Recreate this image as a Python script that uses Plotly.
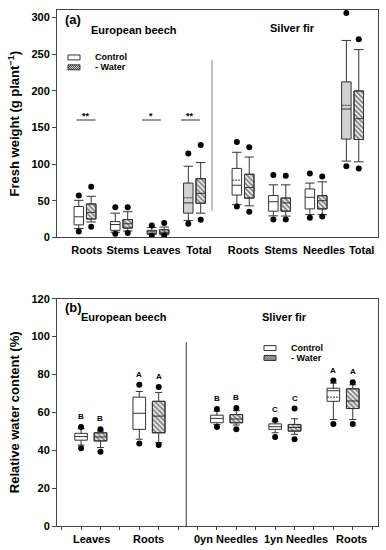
import plotly.graph_objects as go

# ---------------- Panel (a): fresh weight ----------------
a_categories = ["Roots", "Stems", "Leaves", "Total", "Roots", "Stems", "Needles", "Total"]
a_ctrl_low = [12, 7, 4, 23, 44.6, 29.3, 31, 104]
a_ctrl_q1 = [17, 9.5, 5, 33, 57.7, 35.7, 38.8, 134]
a_ctrl_med = [28, 17.5, 7.5, 47, 71, 48.6, 54.6, 175]
a_ctrl_q3 = [42, 21.5, 9.5, 74, 94, 57, 66, 212]
a_ctrl_high = [50.5, 33, 13.5, 97, 116, 71.6, 74, 268.5]
a_ctrl_mean = [None, None, None, 54, 78, None, None, 180]
a_ctrl_dot_low = [8, 5, 2.3, 18.5, 42, 24.3, 26.6, 97]
a_ctrl_dot_high = [57, 41, 16, 114.5, 130, 85, 87, 306]

a_wat_low = [21, 8.6, 3.6, 33, 43, 29, 31, 103]
a_wat_q1 = [25, 12.7, 5, 46.5, 53.6, 35.7, 38.8, 133.4]
a_wat_med = [34, 18.5, 7, 60, 68, 47, 50, 161.8]
a_wat_q3 = [45.5, 24.3, 10.4, 80, 86, 53.6, 56.8, 199.6]
a_wat_high = [56, 35, 14, 102, 109.5, 71.6, 75.7, 256]
a_wat_dot_low = [14.5, 6, 2.7, 24, 35, 24.3, 28.4, 94]
a_wat_dot_high = [69, 41, 19.5, 126, 123, 84, 83, 270]

a_signif = ["**", "", "*", "**", "", "", "", ""]
a_signif_level = 160

# ---------------- Panel (b): relative water content ----------------
b_categories = ["Leaves", "Roots", "0yn Needles", "1yn Needles", "Roots"]
b_ctrl_low = [42.7, 45.8, 53.6, 49.2, 56.2]
b_ctrl_q1 = [45.3, 51, 54.5, 51, 65.8]
b_ctrl_med = [47.2, 59.5, 56.8, 52.4, 71.4]
b_ctrl_q3 = [48.9, 68, 58.5, 53.9, 72.7]
b_ctrl_high = [51.4, 71, 60.6, 55, 75.4]
b_ctrl_mean = [None, None, None, None, 68]
b_ctrl_dot_low = [41.1, 43.5, 52.2, 47, 53.9]
b_ctrl_dot_high = [52.3, 74.5, 61.8, 55.9, 76.8]

b_wat_low = [41.4, 44, 53.3, 48.4, 56.2]
b_wat_q1 = [44.9, 49.2, 54.5, 50.1, 62]
b_wat_med = [47, 58, 56.5, 52, 66]
b_wat_q3 = [49.2, 65.8, 58.8, 53.6, 72.4]
b_wat_high = [50.1, 70.5, 60.9, 56.6, 74.5]
b_wat_dot_low = [39.2, 42.8, 51, 45.8, 53.9]
b_wat_dot_high = [51, 73.3, 62.3, 62, 75.9]

b_ctrl_letters = ["B", "A", "B", "C", "A"]
b_wat_letters = ["B", "A", "B", "C", "A"]

# ---------------- layout constants ----------------
W, H = 386, 550
ML, MR, MT, MB = 57, 8, 4, 24
PW, PH = W - ML - MR, H - MT - MB
FONT = "Liberation Sans, Arial, sans-serif"
LINE = "#333333"
GREY = "#d2d2d2"


def px2paper(px, py):
    return (px - ML) / PW, (H - MB - py) / PH


a_pos = [1, 2, 3, 4, 5.33, 6.33, 7.33, 8.33]
a_label_pos = [1.05, 2.04, 3.11, 4.12, 5.34, 6.37, 7.55, 8.58]
a_ctrl_grey = [False, False, True, True, False, False, False, True]
a_off, a_w = 0.17, 0.26

b_ctrl_pos = [1, 4, 8, 11, 14]
b_wat_pos = [2, 5, 9, 12, 15]
b_label_pos = [1.55, 4.45, 8.45, 12.1, 14.95]
b_w = 0.65

fig = go.Figure()


def add_box(x, lo, q1, med, q3, hi, mean, hatched, fill, width, ww, xa, ya):
    if hatched:
        fig.add_trace(go.Bar(
            x=[x], y=[q3 - q1], base=[q1], width=width, xaxis=xa, yaxis=ya,
            marker=dict(color="white",
                        pattern=dict(shape="\\", fgcolor="#111111", bgcolor="white",
                                     size=3.5, solidity=0.6),
                        line=dict(color=LINE, width=1)),
            showlegend=False, hoverinfo="skip"))
    kw = {}
    if mean is not None:
        kw = dict(mean=[mean], boxmean=True)
    fig.add_trace(go.Box(
        x=[x], q1=[q1], median=[med], q3=[q3], lowerfence=[lo], upperfence=[hi],
        width=width, whiskerwidth=ww, boxpoints=False,
        fillcolor="rgba(0,0,0,0)" if hatched else fill,
        line=dict(color=LINE, width=1), xaxis=xa, yaxis=ya,
        showlegend=False, hoverinfo="skip", **kw))


# panel (a) boxes
for i in range(len(a_categories)):
    add_box(a_pos[i] - a_off, a_ctrl_low[i], a_ctrl_q1[i], a_ctrl_med[i], a_ctrl_q3[i],
            a_ctrl_high[i], a_ctrl_mean[i], False,
            GREY if a_ctrl_grey[i] else "white", a_w, 1.0, "x", "y")
    add_box(a_pos[i] + a_off, a_wat_low[i], a_wat_q1[i], a_wat_med[i], a_wat_q3[i],
            a_wat_high[i], None, True, "white", a_w, 1.0, "x", "y")

a_dx, a_dy = [], []
for i in range(len(a_categories)):
    a_dx += [a_pos[i] - a_off] * 2 + [a_pos[i] + a_off] * 2
    a_dy += [a_ctrl_dot_low[i], a_ctrl_dot_high[i], a_wat_dot_low[i], a_wat_dot_high[i]]
fig.add_trace(go.Scatter(x=a_dx, y=a_dy, mode="markers", xaxis="x", yaxis="y",
                         marker=dict(color="black", size=6), showlegend=False,
                         hoverinfo="skip"))

# panel (b) boxes
for i in range(len(b_categories)):
    add_box(b_ctrl_pos[i], b_ctrl_low[i], b_ctrl_q1[i], b_ctrl_med[i], b_ctrl_q3[i],
            b_ctrl_high[i], b_ctrl_mean[i], False, "white", b_w, 0.55, "x2", "y2")
    add_box(b_wat_pos[i], b_wat_low[i], b_wat_q1[i], b_wat_med[i], b_wat_q3[i],
            b_wat_high[i], None, True, "white", b_w, 0.55, "x2", "y2")

b_dx, b_dy = [], []
for i in range(len(b_categories)):
    b_dx += [b_ctrl_pos[i]] * 2 + [b_wat_pos[i]] * 2
    b_dy += [b_ctrl_dot_low[i], b_ctrl_dot_high[i], b_wat_dot_low[i], b_wat_dot_high[i]]
fig.add_trace(go.Scatter(x=b_dx, y=b_dy, mode="markers", xaxis="x2", yaxis="y2",
                         marker=dict(color="black", size=6), showlegend=False,
                         hoverinfo="skip"))

annotations = []
shapes = []

# significance marks (a)
sig_center = [1.03, None, 2.82, 3.89]
for i, s in enumerate(a_signif):
    if s:
        c = sig_center[i]
        shapes.append(dict(type="line", xref="x", yref="y", x0=c - 0.26, x1=c + 0.26,
                           y0=a_signif_level, y1=a_signif_level,
                           line=dict(color=LINE, width=1)))
        annotations.append(dict(x=c, y=a_signif_level, xref="x", yref="y", text=s,
                                showarrow=False, yanchor="bottom", yshift=-3,
                                font=dict(size=9, family=FONT, color="black", weight="bold")))

# letters (b)
for i in range(len(b_categories)):
    for xp, yp, t in [(b_ctrl_pos[i], b_ctrl_dot_high[i], b_ctrl_letters[i]),
                      (b_wat_pos[i], b_wat_dot_high[i], b_wat_letters[i])]:
        annotations.append(dict(x=xp, y=yp + 5.5, xref="x2", yref="y2", text=t,
                                showarrow=False, yanchor="middle",
                                font=dict(size=8, family=FONT, color="black", weight="bold")))

# category labels (b)
for i, c in enumerate(b_categories):
    annotations.append(dict(x=b_label_pos[i], y=px2paper(0, 539)[1], xref="x2", yref="paper",
                            text=c, showarrow=False, yanchor="middle",
                            font=dict(size=11, family=FONT, color="black", weight="bold")))

# dividers
shapes.append(dict(type="line", xref="x", yref="y", x0=4.48, x1=4.48, y0=36, y1=242,
                   line=dict(color="#888888", width=1)))
shapes.append(dict(type="line", xref="x2", yref="y2", x0=6.42, x1=6.42, y0=0, y1=97,
                   line=dict(color="#333333", width=1)))


def text_at(px, py, t, size, anchor="center"):
    xp, yp = px2paper(px, py)
    annotations.append(dict(x=xp, y=yp, xref="paper", yref="paper", text=t,
                            showarrow=False, xanchor=anchor, yanchor="middle",
                            font=dict(size=size, family=FONT, color="black", weight="bold")))


text_at(63, 14, "(a)", 13, "left")
text_at(134, 24, "European beech", 11)
text_at(292, 22, "Silver fir", 11)
text_at(63, 305, "(b)", 13, "left")
text_at(124, 315, "European beech", 11)
text_at(284, 315, "Sliver fir", 11)


def legend_at(px, py):
    # control swatch
    x0, y0 = px2paper(px, py - 2.5)
    x1, y1 = px2paper(px + 12, py + 2.5)
    shapes.append(dict(type="rect", xref="paper", yref="paper", x0=x0, x1=x1, y0=y0, y1=y1,
                       line=dict(color=LINE, width=1), fillcolor="white"))
    # hatched swatch
    hy = py + 10
    x0, y0 = px2paper(px, hy - 2.5)
    x1, y1 = px2paper(px + 12, hy + 2.5)
    shapes.append(dict(type="rect", xref="paper", yref="paper", x0=x0, x1=x1, y0=y0, y1=y1,
                       line=dict(color=LINE, width=1), fillcolor="white"))
    path = ""
    k = -4
    while k < 14:
        ax, bx = max(px, px + k), min(px + 12, px + k + 5)
        if bx > ax:
            sx, sy = ax, hy - 2.5 + (ax - (px + k))
            ex, ey = bx, hy - 2.5 + (bx - (px + k))
            p0 = px2paper(sx, sy)
            p1 = px2paper(ex, ey)
            path += f"M{p0[0]},{p0[1]} L{p1[0]},{p1[1]} "
        k += 2
    shapes.append(dict(type="path", xref="paper", yref="paper", path=path,
                       line=dict(color="#222222", width=1)))
    text_at(px + 25, py, "Control", 9, "left")
    text_at(px + 25, hy, "- Water", 9, "left")


legend_at(68, 52)
legend_at(264, 346)

tickfont = dict(size=11, family=FONT, color="black", weight="bold")
ya, yb = px2paper(0, 234)[1], px2paper(0, 296)[1]

fig.update_layout(
    width=W, height=H, margin=dict(l=ML, r=MR, t=MT, b=MB),
    paper_bgcolor="white", plot_bgcolor="white", barmode="overlay", boxmode="overlay",
    font=dict(family=FONT, color="black"),
    showlegend=False,
    xaxis=dict(domain=[0, 1], range=[0.233, 9.027], anchor="y", showgrid=False,
               zeroline=False, showline=True, linecolor="#444444", linewidth=1, mirror=True,
               ticks="", tickvals=a_label_pos, ticktext=a_categories, tickfont=tickfont,
               ticklabelstandoff=2),
    yaxis=dict(domain=[ya, 1], range=[0, 310], anchor="x", showgrid=False, zeroline=False,
               showline=True, linecolor="#444444", linewidth=1, mirror=True,
               ticks="outside", ticklen=4, tickcolor="#444444", dtick=50, tickfont=tickfont,
               title=dict(text="Fresh weight (g plant<sup>\u22121</sup>)",
                          font=dict(size=13, family=FONT, color="black", weight="bold"),
                          standoff=8)),
    xaxis2=dict(domain=[0, 1], range=[-0.24, 16.3], anchor="y2", showgrid=False,
                zeroline=False, showline=True, linecolor="#444444", linewidth=1, mirror=True,
                ticks="outside", ticklen=3, tickcolor="#444444",
                tickvals=list(range(17)), showticklabels=False),
    yaxis2=dict(domain=[0, yb], range=[0, 120], anchor="x2", showgrid=False, zeroline=False,
                showline=True, linecolor="#444444", linewidth=1, mirror=True,
                ticks="outside", ticklen=4, tickcolor="#444444", dtick=20, tickfont=tickfont,
                title=dict(text="Relative water content (%)",
                           font=dict(size=13, family=FONT, color="black", weight="bold"),
                           standoff=8)),
    annotations=annotations,
    shapes=shapes,
)

post = ("document.body.style.margin='0';document.body.style.overflow='hidden';"
        "var d=document.getElementById('{plot_id}');"
        "d.style.position='absolute';d.style.left='0px';d.style.top='0px';")
fig.write_html("out.html", post_script=post, config={"displayModeBar": False})
